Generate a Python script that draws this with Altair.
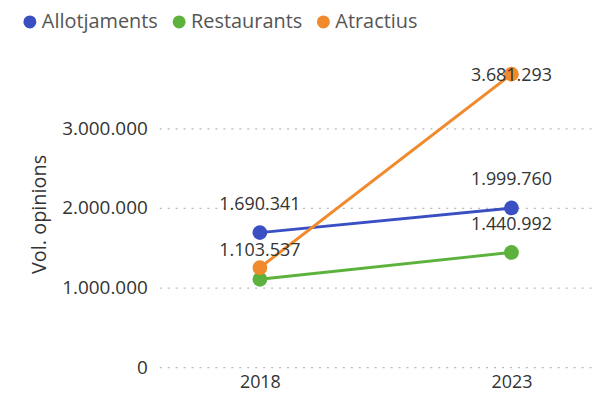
import altair as alt
import pandas as pd

years = [2018, 2023]
series = ["Allotjaments", "Restaurants", "Atractius"]
allotjaments = [1690341, 1999760]
restaurants = [1103537, 1440992]
atractius = [1250000, 3681293]
colors = ["#3A4FC2", "#5CB23C", "#F08A2C"]
y_ticks = [0, 1000000, 2000000, 3000000]

rows = []
for name, vals in zip(series, [allotjaments, restaurants, atractius]):
    for yr, v in zip(years, vals):
        rows.append({"Serie": name, "Any": yr, "Valor": v})
df = pd.DataFrame(rows)

x = alt.X("Any:Q", scale=alt.Scale(domain=[2016, 2024.7]),
          axis=alt.Axis(values=years, format="d", title=None, grid=False, domain=False,
                        ticks=False, labelFontSize=18, labelColor="#333333",
                        labelPadding=6, labelFont="Open Sans"))
y = alt.Y("Valor:Q", scale=alt.Scale(domain=[0, 3850000], nice=False),
          axis=alt.Axis(values=y_ticks, title="Vol. opinions", labelExpr="replace(format(datum.value, ',d'), /,/g, '.')",
                        domain=False, ticks=False, grid=True, gridDash=[2, 6], gridColor="#BBBBBB",
                        gridWidth=1.2, labelFontSize=19, labelColor="#333333", labelPadding=12,
                        labelFont="Open Sans", titleFont="Open Sans", titleFontSize=20,
                        titleFontWeight="normal", titleColor="#333333", titlePadding=12))
color = alt.Color("Serie:N", scale=alt.Scale(domain=series, range=colors),
                  legend=alt.Legend(title=None, orient="none", direction="horizontal",
                                    legendX=-140, legendY=-49, symbolType="circle",
                                    symbolSize=170, symbolOpacity=1, symbolStrokeWidth=0,
                                    labelFontSize=20, labelColor="#555555", labelFont="Open Sans",
                                    columnPadding=11, symbolOffset=0, labelOffset=2))

base = alt.Chart(df)
lines = base.mark_line(strokeWidth=3).encode(x=x, y=y, color=color, detail="Serie:N")
points = base.mark_circle(size=220, opacity=1).encode(x=x, y=y, color=color)

lab_calc = {"lab": "replace(format(datum.Valor, ',d'), /,/g, '.')"}
labels = base.transform_filter(
    "!(datum.Serie == 'Atractius')"
).transform_calculate(**lab_calc).mark_text(
    dy=-28, fontSize=18, color="#333333", font="Open Sans"
).encode(x=x, y=y, text="lab:N")
top_label = base.transform_filter(
    "datum.Serie == 'Atractius' && datum.Any == 2023"
).transform_calculate(**lab_calc).mark_text(
    dy=2, fontSize=18, color="#333333", font="Open Sans"
).encode(x=x, y=y, text="lab:N")

chart = alt.layer(lines, points, labels, top_label).properties(
    width=440, height=308,
    autosize=alt.AutoSizeParams(type="none"),
    padding={"left": 152, "top": 52, "right": 0, "bottom": 26},
).configure(background="white").configure_view(stroke=None)

chart.save("out.html", embed_options={"renderer": "svg", "actions": False})
